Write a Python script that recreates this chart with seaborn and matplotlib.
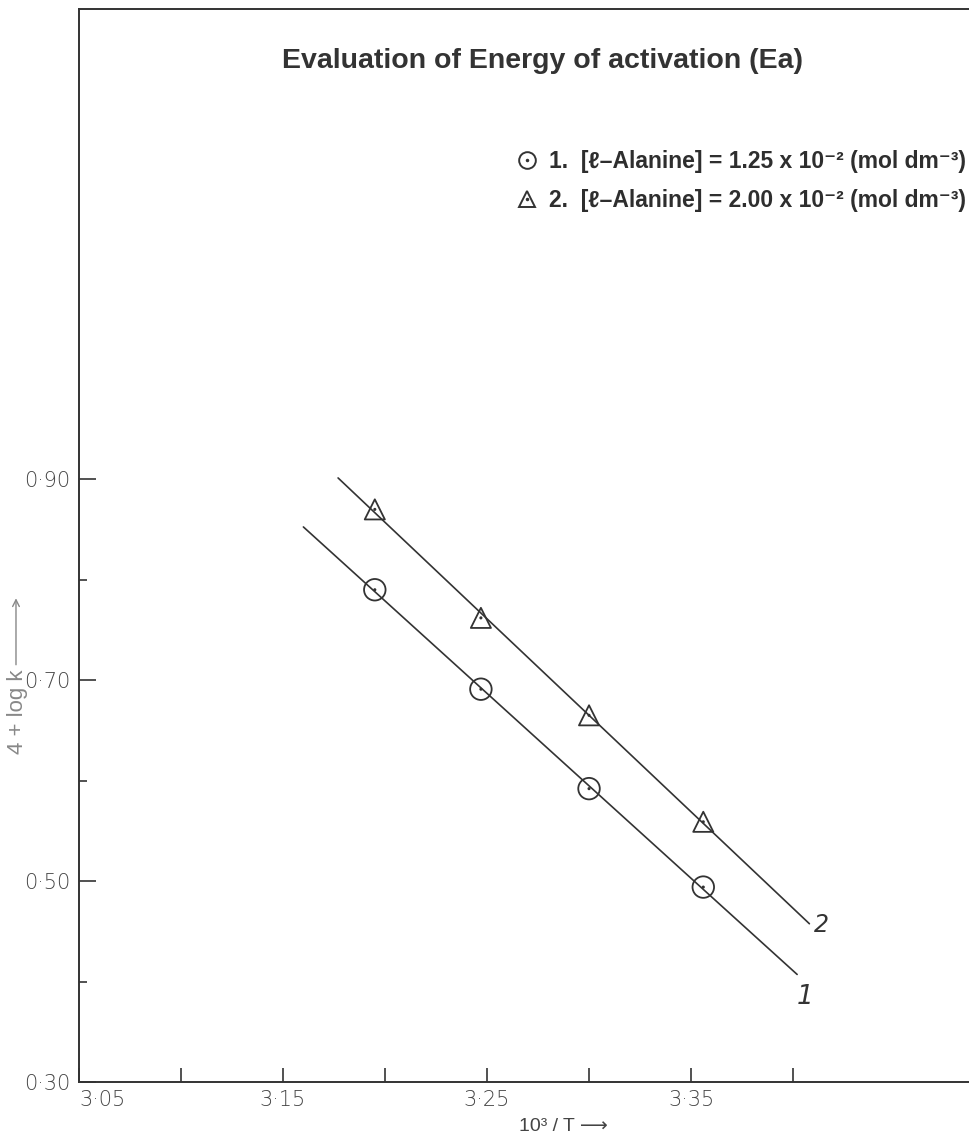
import numpy as np
import seaborn as sns
import matplotlib.pyplot as plt
from matplotlib.lines import Line2D
from matplotlib.ticker import FixedLocator

sns.set_theme(style="white")
plt.rcParams["font.family"] = ["Liberation Sans", "DejaVu Sans"]

INK = "#333333"

# 10^3 / T for the four temperatures
inv_t = [3.195, 3.247, 3.300, 3.356]
# 4 + log k
logk_1 = [0.790, 0.691, 0.592, 0.494]
logk_2 = [0.870, 0.762, 0.665, 0.559]
# x span over which each fitted line was drawn
span_1 = [3.160, 3.402]
span_2 = [3.177, 3.408]

legend_1 = "1.  [ℓ–Alanine] = 1.25 x 10⁻² (mol dm⁻³)"
legend_2 = "2.  [ℓ–Alanine] = 2.00 x 10⁻² (mol dm⁻³)"

x_major = [3.05, 3.15, 3.25, 3.35]
x_minor = [3.10, 3.20, 3.30, 3.40]
y_major = [0.30, 0.50, 0.70, 0.90]
y_minor = [0.40, 0.60, 0.80]


def fit_line(x, y, span):
    slope, icpt = np.polyfit(x, y, 1)
    xs = np.array(span)
    return xs, slope * xs + icpt


fig = plt.figure(figsize=(9.69, 11.43), dpi=100)
ax = fig.add_axes([0.0815, 0.0534, 0.918, 0.9386])

for ys, span in [(logk_1, span_1), (logk_2, span_2)]:
    fx, fy = fit_line(inv_t, ys, span)
    sns.lineplot(x=fx, y=fy, ax=ax, color=INK, linewidth=1.2)

sns.scatterplot(x=inv_t, y=logk_1, ax=ax, marker="o", s=240,
                facecolor="none", edgecolor=INK, linewidth=1.3, zorder=3)
sns.scatterplot(x=inv_t, y=logk_2, ax=ax, marker="^", s=210,
                facecolor="none", edgecolor=INK, linewidth=1.3, zorder=3)
sns.scatterplot(x=inv_t + inv_t, y=logk_1 + logk_2, ax=ax, s=5, color=INK,
                edgecolor="none", zorder=4)

dot = Line2D([], [], marker=".", ms=3, ls="", color=INK)
h1 = (Line2D([], [], marker="o", ms=12, ls="", mfc="none", mec=INK, mew=1.4), dot)
h2 = (Line2D([], [], marker="^", ms=12, ls="", mfc="none", mec=INK, mew=1.4), dot)
ax.legend([h1, h2], [legend_1, legend_2], loc="upper right",
          bbox_to_anchor=(0.997, 0.869), frameon=False, handlelength=1.0,
          handletextpad=0.45, labelspacing=0.7, borderpad=0, borderaxespad=0,
          prop={"size": 16.5, "weight": "bold"}, labelcolor="#2e2e2e")

ax.text(0.521, 0.952, "Evaluation of Energy of activation (Ea)",
        transform=ax.transAxes, ha="center", va="center",
        fontsize=20.5, fontweight="bold", color="#333333")

ax.text(3.406, 0.385, "1", fontsize=19, style="italic", color=INK,
        ha="center", va="center", family="DejaVu Sans")
ax.text(3.414, 0.456, "2", fontsize=17, style="italic", color=INK,
        ha="center", va="center", family="DejaVu Sans")

ax.set_xlim(3.05, 3.486)
ax.set_ylim(0.30, 1.368)

ax.xaxis.set_major_locator(FixedLocator(x_major))
ax.xaxis.set_minor_locator(FixedLocator(x_minor))
ax.yaxis.set_major_locator(FixedLocator(y_major))
ax.yaxis.set_minor_locator(FixedLocator(y_minor))
ax.set_xticklabels([f"{v:.2f}".replace(".", "·") for v in x_major])
ax.set_yticklabels([f"{v:.2f}".replace(".", "·") for v in y_major])

ax.tick_params(which="both", direction="in", color=INK, width=1.2,
               bottom=True, left=True, labelsize=15, labelcolor="#444444")
ax.tick_params(axis="x", which="both", length=10, pad=6)
ax.tick_params(axis="y", which="major", length=12, pad=6)
ax.tick_params(axis="y", which="minor", length=6)
for lab in ax.get_xticklabels() + ax.get_yticklabels():
    lab.set_family("DejaVu Sans")
    lab.set_fontweight("light")
# the first x label sits to the right of the origin
ax.get_xticklabels()[0].set_horizontalalignment("left")

for side in ["left", "top", "bottom"]:
    ax.spines[side].set_color(INK)
    ax.spines[side].set_linewidth(1.4)
ax.spines["right"].set_visible(False)

ax.set_xlabel("10³ / T ⟶", fontsize=14, color="#444444")
ax.set_ylabel("4 + log k", fontsize=16, color="#888888")
ax.xaxis.set_label_coords(0.545, -0.034)
ax.yaxis.set_label_coords(-0.057, 0.345)

# arrow that continues the y label upwards
ax.annotate("", xy=(0.0165, 0.479), xytext=(0.0165, 0.416),
            xycoords="figure fraction", textcoords="figure fraction",
            arrowprops=dict(arrowstyle="->", color="#888888", lw=1.0))

fig.savefig("out.png", dpi=100, facecolor="white")
